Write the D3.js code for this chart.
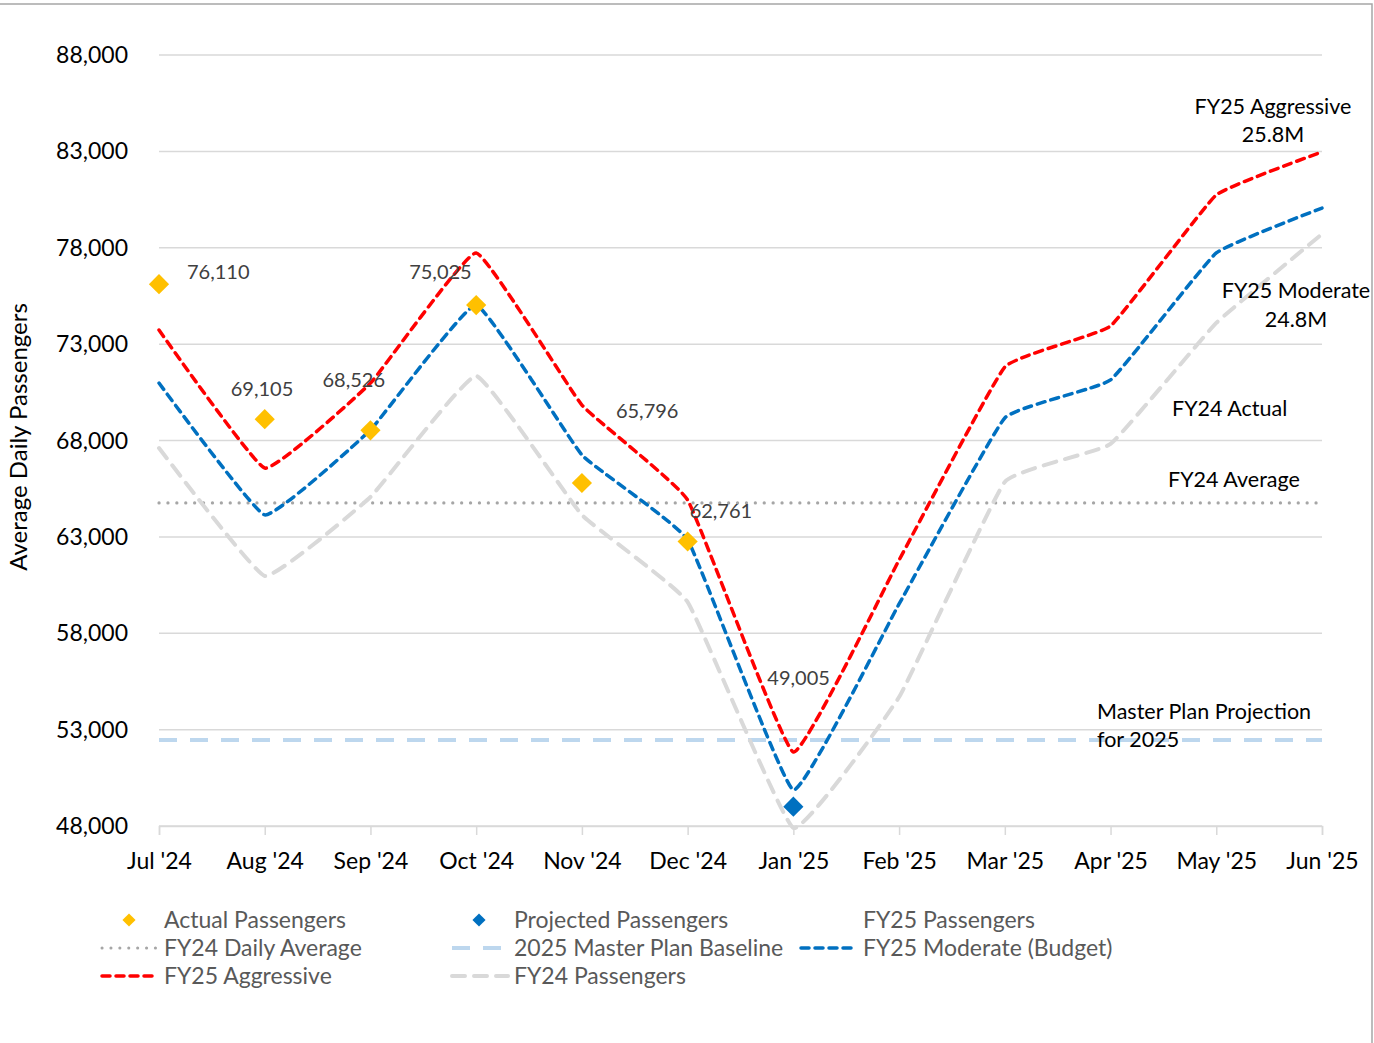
<!DOCTYPE html>
<html>
<head>
<meta charset="utf-8">
<script src="https://cdn.jsdelivr.net/npm/d3@7"></script>
<style>
  body { margin: 0; background: #fff; }
  svg text { font-family: Lato, "Open Sans", sans-serif; }
</style>
</head>
<body>
<svg id="chart" width="1374" height="1043"></svg>
<script>
// months on the x axis
const months = ["Jul '24", "Aug '24", "Sep '24", "Oct '24", "Nov '24", "Dec '24",
                "Jan '25", "Feb '25", "Mar '25", "Apr '25", "May '25", "Jun '25"];

const yTicks = [48000, 53000, 58000, 63000, 68000, 73000, 78000, 83000, 88000];

// series
const fy25Aggressive = [73730, 66570, 70980, 77730, 69840, 64910, 51840, 61800, 71810, 73940, 80740, 82970];
const fy25Moderate   = [70980, 64140, 68550, 75030, 67250, 62840, 49870, 59520, 69170, 71140, 77730, 80060];
const fy24Passengers = [67610, 60970, 65070, 71350, 64140, 59620, 47900, 54690, 65850, 67820, 74100, 78710];
const actualPassengers    = [76110, 69105, 68526, 75025, 65796, 62761];
const projectedPassengers = [{ month: 6, value: 49005 }];
const fy24DailyAverage = 64760;
const masterPlanBaseline = 52460;

const svg = d3.select("#chart");
const margin = { left: 159, right: 1322, top: 55, bottom: 826 };

const x = d3.scalePoint().domain(months).range([margin.left, margin.right]);
const y = d3.scaleLinear().domain([48000, 88000]).range([margin.bottom, margin.top]);

// outer frame (partly cropped in the original)
svg.append("rect")
    .attr("x", -2).attr("y", 4).attr("width", 1374).attr("height", 1050)
    .attr("fill", "none").attr("stroke", "#a6a6a6").attr("stroke-width", 1.5);

// gridlines
svg.append("g").selectAll("line")
    .data(yTicks)
    .join("line")
    .attr("x1", margin.left).attr("x2", margin.right)
    .attr("y1", d => y(d)).attr("y2", d => y(d))
    .attr("stroke", "#d9d9d9").attr("stroke-width", 1.5);

// y axis labels
const fmt = d3.format(",");
svg.append("g").selectAll("text")
    .data(yTicks)
    .join("text")
    .attr("x", 128).attr("y", d => y(d)).attr("dy", "0.35em")
    .attr("text-anchor", "end")
    .style("font-size", "23px").attr("fill", "#000")
    .text(d => fmt(d));

svg.append("text")
    .attr("transform", "translate(27,437) rotate(-90)")
    .attr("text-anchor", "middle")
    .style("font-size", "24px").attr("fill", "#000")
    .text("Average Daily Passengers");

// x axis
const xAxis = svg.append("g")
    .attr("transform", `translate(0,${margin.bottom})`)
    .call(d3.axisBottom(x).tickSize(9).tickPadding(18));
xAxis.select(".domain").attr("stroke", "#d9d9d9").attr("stroke-width", 1.5);
xAxis.selectAll(".tick line").attr("stroke", "#d9d9d9").attr("stroke-width", 1.5);
xAxis.selectAll(".tick text")
    .style("font-size", "23px").style("font-family", "Lato, 'Open Sans', sans-serif")
    .attr("fill", "#000");

// reference lines
const refLine = d3.line().x(d => d[0]).y(d => d[1]);
svg.append("path")
    .attr("d", refLine([[margin.left, y(masterPlanBaseline)], [margin.right, y(masterPlanBaseline)]]))
    .attr("stroke", "#bdd7ee").attr("stroke-width", 4).attr("fill", "none")
    .attr("stroke-dasharray", "18,13");

svg.append("path")
    .attr("d", refLine([[margin.left, y(fy24DailyAverage)], [margin.right, y(fy24DailyAverage)]]))
    .attr("stroke", "#a6a6a6").attr("stroke-width", 3.2).attr("fill", "none")
    .attr("stroke-linecap", "round").attr("stroke-dasharray", "0.1,8.8");

// smoothed series lines (Excel-style light smoothing)
const line = d3.line()
    .x((d, i) => x(months[i]))
    .y(d => y(d))
    .curve(d3.curveCardinal.tension(0.7));

const seriesStyles = [
    { data: fy24Passengers, color: "#d9d9d9", width: 4, dash: "13,9" },
    { data: fy25Moderate, color: "#0070c0", width: 3.5, dash: "8,6" },
    { data: fy25Aggressive, color: "#ff0000", width: 3.5, dash: "8,6" }
];
svg.append("g").selectAll("path")
    .data(seriesStyles)
    .join("path")
    .attr("d", d => line(d.data))
    .attr("fill", "none")
    .attr("stroke", d => d.color)
    .attr("stroke-width", d => d.width)
    .attr("stroke-linecap", "round")
    .attr("stroke-dasharray", d => d.dash);

// markers
const diamond = d3.symbol().type(d3.symbolDiamond2).size(260);
svg.append("g").selectAll("path")
    .data(actualPassengers)
    .join("path")
    .attr("d", diamond)
    .attr("transform", (d, i) => `translate(${x(months[i])},${y(d)})`)
    .attr("fill", "#ffc000");

svg.append("g").selectAll("path")
    .data(projectedPassengers)
    .join("path")
    .attr("d", diamond)
    .attr("transform", d => `translate(${x(months[d.month])},${y(d.value)})`)
    .attr("fill", "#0070c0");

// data labels
const labelOffsets = [[28, -12], [-34, -30], [-48, -50], [-67, -33], [34, -72], [2, -30]];
svg.append("g").selectAll("text")
    .data(actualPassengers)
    .join("text")
    .attr("x", (d, i) => x(months[i]) + labelOffsets[i][0])
    .attr("y", (d, i) => y(d) + labelOffsets[i][1])
    .attr("dy", "0.35em")
    .style("font-size", "20px").attr("fill", "#404040")
    .text(d => fmt(d));

svg.append("g").selectAll("text")
    .data(projectedPassengers)
    .join("text")
    .attr("x", d => x(months[d.month]) - 26)
    .attr("y", d => y(d.value) - 129)
    .attr("dy", "0.35em")
    .style("font-size", "20px").attr("fill", "#404040")
    .text(d => fmt(d.value));

// annotations
const notes = [
    { t: "FY25 Aggressive", x: 1273, y: 106, a: "middle" },
    { t: "25.8M", x: 1273, y: 134, a: "middle" },
    { t: "FY25 Moderate", x: 1296, y: 290, a: "middle" },
    { t: "24.8M", x: 1296, y: 319, a: "middle" },
    { t: "FY24 Actual", x: 1172, y: 408, a: "start" },
    { t: "FY24 Average", x: 1168, y: 479, a: "start" },
    { t: "Master Plan Projection", x: 1097, y: 711, a: "start" },
    { t: "for 2025", x: 1097, y: 739, a: "start" }
];
svg.append("g").selectAll("text")
    .data(notes)
    .join("text")
    .attr("x", d => d.x).attr("y", d => d.y).attr("dy", "0.35em")
    .attr("text-anchor", d => d.a)
    .style("font-size", "21.5px").attr("fill", "#000")
    .text(d => d.t);

// legend
const legendItems = [
    { label: "Actual Passengers", type: "diamond", color: "#ffc000", col: 0, row: 0 },
    { label: "Projected Passengers", type: "diamond", color: "#0070c0", col: 1, row: 0 },
    { label: "FY25 Passengers", type: "none", col: 2, row: 0 },
    { label: "FY24 Daily Average", type: "line", color: "#a6a6a6", width: 3, dash: "0.1,8.8", col: 0, row: 1 },
    { label: "2025 Master Plan Baseline", type: "line", color: "#bdd7ee", width: 4, dash: "18,13", cap: "butt", col: 1, row: 1 },
    { label: "FY25 Moderate (Budget)", type: "line", color: "#0070c0", width: 3.5, dash: "8,6", col: 2, row: 1 },
    { label: "FY25 Aggressive", type: "line", color: "#ff0000", width: 3.5, dash: "8,6", col: 0, row: 2 },
    { label: "FY24 Passengers", type: "line", color: "#d9d9d9", width: 4, dash: "13,9", col: 1, row: 2 }
];
const colX = [100, 450, 799];
const rowY = [920, 948, 976];

const legend = svg.append("g");
legendItems.forEach(item => {
    const lx = colX[item.col], ly = rowY[item.row];
    if (item.type === "diamond") {
        legend.append("path")
            .attr("d", d3.symbol().type(d3.symbolDiamond2).size(110))
            .attr("transform", `translate(${lx + 29},${ly})`)
            .attr("fill", item.color);
    } else if (item.type === "line") {
        legend.append("line")
            .attr("x1", lx + 2).attr("x2", lx + 58).attr("y1", ly).attr("y2", ly)
            .attr("stroke", item.color).attr("stroke-width", item.width)
            .attr("stroke-linecap", item.cap || "round")
            .attr("stroke-dasharray", item.dash);
    }
    legend.append("text")
        .attr("x", lx + 64).attr("y", ly).attr("dy", "0.35em")
        .style("font-size", "23px").attr("fill", "#595959")
        .text(item.label);
});
</script>
</body>
</html>
